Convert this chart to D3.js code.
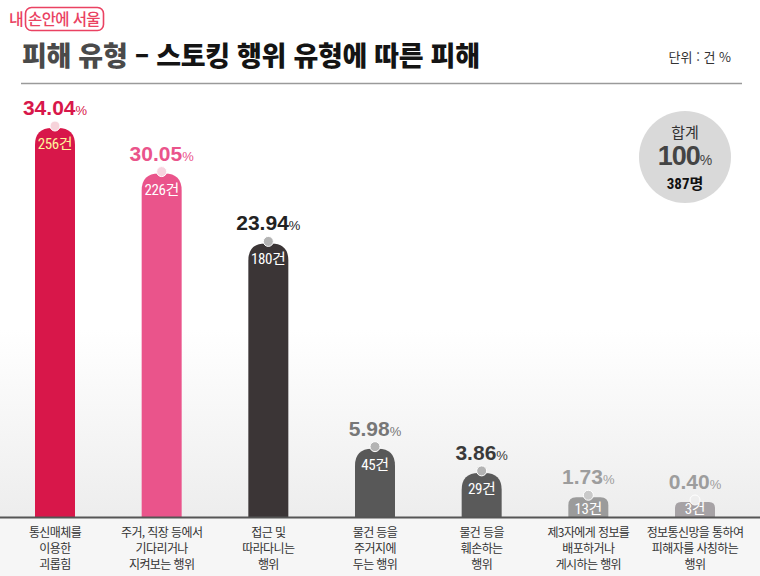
<!DOCTYPE html>
<html lang="ko">
<head>
<meta charset="utf-8">
<script src="https://cdn.jsdelivr.net/npm/d3@7/dist/d3.min.js"></script>
<style>
  html, body { margin: 0; padding: 0; background: #ffffff; }
  svg { display: block; }
</style>
</head>
<body>
<svg id="chart" width="760" height="576"></svg>
<script>
// ---- data ----
const categories = [
  ["통신매체를", "이용한", "괴롭힘"],
  ["주거, 직장 등에서", "기다리거나", "지켜보는 행위"],
  ["접근 및", "따라다니는", "행위"],
  ["물건 등을", "주거지에", "두는 행위"],
  ["물건 등을", "훼손하는", "행위"],
  ["제3자에게 정보를", "배포하거나", "게시하는 행위"],
  ["정보통신망을 통하여", "피해자를 사칭하는", "행위"]
];
const percents = [34.04, 30.05, 23.94, 5.98, 3.86, 1.73, 0.40];
const counts = [256, 226, 180, 45, 29, 13, 3];
const totalPercent = "100";
const totalCount = 387;
const titleGray = "피해 유형";
const titleBlack = " – 스토킹 행위 유형에 따른 피해";
const unitLabel = "단위 : 건 %";
const logoA = "내";
const logoB = "손안에 서울";

// ---- styles ----
const barColors = ["#d8174a", "#ea548b", "#3b3536", "#585858", "#5a5a5a", "#9b9b9b", "#a6a2a5"];
const pctColors = ["#d8174a", "#ea548b", "#222222", "#777777", "#3a3a3a", "#9d9d9d", "#9d9d9d"];
const countColors = ["#fff49a", "#ffffff", "#ffffff", "#ffffff", "#ffffff", "#ffffff", "#ffffff"];
const dotFills = ["#f6d3da", "#f7d3df", "#b3b3b3", "#b3b3b3", "#b3b3b3", "#c9c9c9", "#eeeeee"];

const KR = "'Noto Sans CJK KR', 'Noto Sans', sans-serif";
const NUM = "'Liberation Sans', Arial, 'Noto Sans CJK KR', sans-serif";
const NARROW = "'Liberation Sans Narrow', 'Roboto Condensed', 'Noto Sans CJK KR', sans-serif";

const svg = d3.select("#chart");
const W = 760, H = 576;
const baseY = 517;

// background
const defs = svg.append("defs");
const grad = defs.append("linearGradient").attr("id", "bg").attr("x1", 0).attr("y1", 0).attr("x2", 0).attr("y2", 1);
grad.append("stop").attr("offset", "0%").attr("stop-color", "#ffffff");
grad.append("stop").attr("offset", "100%").attr("stop-color", "#ededed");
svg.append("rect").attr("x", 0).attr("y", 0).attr("width", W).attr("height", H).attr("fill", "#ffffff");
svg.append("rect").attr("x", 0).attr("y", 330).attr("width", W).attr("height", baseY - 330).attr("fill", "url(#bg)");
svg.append("rect").attr("x", 0).attr("y", baseY).attr("width", W).attr("height", H - baseY).attr("fill", "#f6f6f6");

// logo
svg.append("text").attr("x", 9).attr("y", 25).attr("font-family", KR).attr("font-size", 16)
  .attr("font-weight", 500).attr("fill", "#ea4262").text(logoA);
svg.append("rect").attr("x", 25.5).attr("y", 7.5).attr("width", 78).attr("height", 23).attr("rx", 6)
  .attr("fill", "none").attr("stroke", "#ea4262").attr("stroke-width", 1.6);
svg.append("text").attr("x", 64).attr("y", 25).attr("text-anchor", "middle").attr("font-family", KR)
  .attr("font-size", 15.5).attr("font-weight", 500).attr("fill", "#ea4262").attr("letter-spacing", -0.6).text(logoB);

// title
const title = svg.append("text").attr("x", 22).attr("y", 66).attr("font-family", KR)
  .attr("font-size", 27).attr("font-weight", 800).attr("letter-spacing", -0.3);
title.append("tspan").attr("fill", "#4a4a4a").text(titleGray);
title.append("tspan").attr("fill", "#141414").text(titleBlack);

svg.append("text").attr("x", 731).attr("y", 62).attr("text-anchor", "end").attr("font-family", KR)
  .attr("font-size", 13).attr("fill", "#333").text(unitLabel);

svg.append("line").attr("x1", 21).attr("x2", 742).attr("y1", 83.5).attr("y2", 83.5)
  .attr("stroke", "#9a9a9a").attr("stroke-width", 1.5);

// scales
const idx = d3.range(categories.length);
const x = d3.scalePoint().domain(idx).range([55, 695]);
const y = d3.scaleLinear().domain([0, d3.max(percents)]).range([baseY, 128]);
const barW = 40;
const minH = 15;

function barPath(cx, top) {
  const h = baseY - top;
  const r = Math.min(17, h * 0.4);
  const l = cx - barW / 2, rr = cx + barW / 2;
  return `M${l},${baseY} L${l},${top + r} Q${l},${top} ${l + r},${top} L${rr - r},${top} Q${rr},${top} ${rr},${top + r} L${rr},${baseY} Z`;
}

const g = svg.append("g");
const bars = g.selectAll("g.bar").data(idx).join("g").attr("class", "bar");
bars.each(function(i) {
  const sel = d3.select(this);
  const cx = x(i);
  const top = Math.min(y(percents[i]), baseY - minH);
  sel.append("path").attr("d", barPath(cx, top)).attr("fill", barColors[i]);
  // count label
  sel.append("text").attr("x", cx).attr("y", Math.min(top + 21, baseY - 3)).attr("text-anchor", "middle")
    .attr("font-family", NARROW).attr("font-size", 15).attr("font-weight", 400)
    .attr("letter-spacing", -0.4).attr("fill", countColors[i]).text(counts[i] + "건");
  // dot
  sel.append("circle").attr("cx", cx).attr("cy", top - 2).attr("r", 5)
    .attr("fill", dotFills[i]).attr("stroke", "#ffffff").attr("stroke-width", 1);
  // percent label
  const t = sel.append("text").attr("x", cx).attr("y", top - 13).attr("text-anchor", "middle")
    .attr("fill", pctColors[i]).attr("font-family", NUM);
  t.append("tspan").attr("font-size", 21).attr("font-weight", 700).text(percents[i].toFixed(2));
  t.append("tspan").attr("font-size", 13).attr("font-weight", 400).text("%");
});

// baseline
svg.append("line").attr("x1", 0).attr("x2", W).attr("y1", baseY + 0.5).attr("y2", baseY + 0.5)
  .attr("stroke", "#555555").attr("stroke-width", 1.8);

// category labels
const labels = svg.append("g").selectAll("text").data(idx).join("text")
  .attr("x", i => x(i)).attr("text-anchor", "middle").attr("font-family", KR)
  .attr("font-size", 12).attr("letter-spacing", -0.6).attr("fill", "#333");
labels.each(function(i) {
  d3.select(this).selectAll("tspan").data(categories[i]).join("tspan")
    .attr("x", x(i)).attr("y", (d, k) => 537 + k * 16).text(d => d);
});

// total circle
const tc = svg.append("g").attr("transform", "translate(685,157)");
tc.append("circle").attr("r", 46).attr("fill", "#d9d9d9");
tc.append("text").attr("y", -19).attr("text-anchor", "middle").attr("font-family", KR)
  .attr("font-size", 15).attr("fill", "#333").text("합계");
const t100 = tc.append("text").attr("y", 8).attr("text-anchor", "middle").attr("fill", "#444").attr("font-family", NUM);
t100.append("tspan").attr("font-size", 27).attr("font-weight", 700).attr("letter-spacing", -1).text(totalPercent);
t100.append("tspan").attr("font-size", 14).attr("font-weight", 400).text("%");
tc.append("text").attr("y", 31.5).attr("text-anchor", "middle").attr("font-family", NARROW)
  .attr("font-size", 15).attr("font-weight", 700).attr("fill", "#111").text(totalCount + "명");
</script>
</body>
</html>
